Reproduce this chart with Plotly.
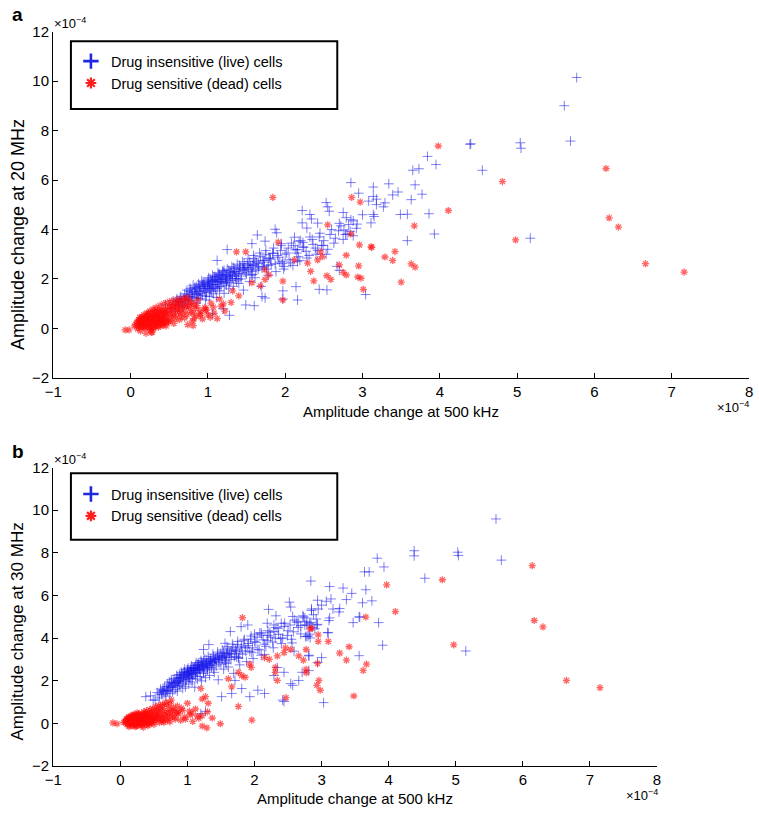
import plotly.graph_objects as go

W, H = 759, 816
FONT = "Liberation Sans, Arial, Helvetica, sans-serif"

# ---------------- data (amplitude change, units of 1e-4) ----------------
series_names = ["Drug insensitive (live) cells", "Drug sensitive (dead) cells"]
x_title = "Amplitude change at 500 kHz"
y_title_a = "Amplitude change at 20 MHz"
y_title_b = "Amplitude change at 30 MHz"
x_ticks = [-1, 0, 1, 2, 3, 4, 5, 6, 7, 8]
y_ticks = [-2, 0, 2, 4, 6, 8, 10, 12]

# dense core of live cells: x at 500 kHz, y at 20 MHz (a), y at 30 MHz (b)
blue_core_x = [0.45,0.52,0.55,0.58,0.60,0.62,0.65,0.66,0.68,0.70,
               0.71,0.73,0.74,0.76,0.77,0.78,0.80,0.81,0.82,0.84,
               0.85,0.86,0.88,0.89,0.90,0.91,0.92,0.93,0.95,0.96,
               0.97,0.98,1.00,1.01,1.02,1.03,1.05,1.06,1.07,1.08,
               1.10,1.11,1.12,1.13,1.15,1.16,1.17,1.19,1.20,1.21,
               1.23,1.24,1.25,1.27,1.28,1.30,1.31,1.33,1.35,1.36,
               1.38,1.40,1.41,1.43,1.45,1.46,1.48,1.50,1.52,1.54,
               1.55,1.57,1.59,1.61,1.63,1.65,1.67,1.69,1.71,1.73,
               1.75,1.78,1.80,1.82,1.85,1.88,1.90,1.93,1.95,1.98,
               2.02,2.05,2.08,2.10,2.13,2.17,2.20,2.24,2.28,2.32,
               2.36,2.40,2.45,2.50,2.55,2.60,2.65,2.72,2.78,2.85,
               2.92,3.00,
               0.72,0.79,0.83,0.87,0.90,0.94,0.97,0.99,1.02,1.04,
               1.06,1.09,1.11,1.14,1.16,1.18,1.22,1.26,1.29,1.32,
               1.34,1.37,1.42,1.47,1.51,1.56,1.62,0.85,0.93,1.00,
               1.08,1.15,1.21,0.76,0.69,0.63,0.88,1.04,1.12,1.24,
               1.39,1.58,1.76,1.96]
blue_core_y20 = [0.95,0.80,1.12,0.70,1.20,0.95,1.30,1.05,0.85,1.40,
                 1.18,1.55,0.98,1.30,1.62,1.12,1.45,1.75,1.25,1.58,
                 1.02,1.38,1.80,1.50,1.20,1.68,1.92,1.35,1.60,1.85,
                 1.15,1.45,1.72,2.05,1.30,1.55,1.90,2.15,1.40,1.65,
                 1.98,1.25,1.78,2.25,1.52,2.00,1.68,2.32,1.88,1.42,
                 2.10,1.75,2.40,1.60,2.18,1.95,2.50,1.70,2.28,2.02,
                 2.60,1.82,2.38,2.12,2.70,1.55,2.45,2.20,2.82,1.90,
                 2.55,2.30,2.95,2.05,2.65,2.40,3.05,1.70,2.75,2.50,
                 3.15,2.15,2.85,2.58,3.25,2.30,2.95,2.68,3.35,2.40,
                 3.05,2.78,3.45,2.55,3.18,2.90,3.55,3.28,2.85,3.70,
                 3.40,3.00,3.85,3.55,3.20,4.00,3.65,4.15,3.80,4.40,
                 4.05,4.60,
                 1.28,1.38,1.48,1.62,1.52,1.70,1.62,1.82,1.78,1.88,
                 1.72,1.92,2.05,1.85,2.12,1.98,2.20,2.05,2.28,2.15,
                 2.42,2.22,2.48,2.35,2.60,2.45,2.72,1.68,1.78,1.95,
                 2.08,2.18,2.35,1.50,1.22,1.10,1.32,1.60,1.62,1.88,
                 2.00,2.18,2.40,2.62]
blue_core_y30 = [1.30,1.10,1.45,1.20,1.62,1.35,1.50,1.72,1.28,1.85,
                 1.55,1.95,1.40,2.05,1.70,1.48,2.10,1.88,1.60,2.25,
                 1.52,1.98,2.30,1.78,2.12,2.40,1.90,1.65,2.20,2.55,
                 1.72,2.05,2.35,2.60,1.85,2.15,2.48,2.70,1.95,2.28,
                 2.62,1.70,2.40,2.85,2.08,2.52,2.75,2.20,2.95,2.00,
                 2.68,2.35,3.05,2.15,2.80,2.50,3.15,2.25,2.90,2.62,
                 3.25,2.40,3.00,2.70,3.35,2.05,3.10,2.78,3.45,2.55,
                 3.20,2.88,3.60,2.65,3.30,3.00,3.72,2.35,3.42,3.12,
                 3.85,2.75,3.55,3.25,3.95,2.90,3.65,3.38,4.10,3.05,
                 3.80,3.48,4.25,3.20,3.92,3.62,4.35,4.05,3.55,4.50,
                 4.18,3.75,4.70,4.35,3.95,4.85,4.50,5.05,4.62,5.30,
                 4.90,5.55,
                 1.72,1.82,1.92,2.02,2.10,2.18,2.25,2.30,2.38,2.45,
                 2.32,2.50,2.58,2.48,2.65,2.55,2.72,2.68,2.82,2.75,
                 2.95,2.85,3.05,3.00,3.15,3.10,3.28,2.15,2.32,2.45,
                 2.62,2.78,2.88,1.92,1.62,1.55,1.85,2.10,2.22,2.42,
                 2.55,2.82,3.05,3.32]
# more live cells of the dense band: (x 500 kHz, y 20 MHz, y 30 MHz)
blue_core_more = [(0.58,0.98,1.38),(0.61,1.08,1.48),(0.64,1.18,1.58),(0.67,0.92,1.42),(0.70,1.10,1.52),
                  (0.73,1.35,1.75),(0.75,1.20,1.68),(0.78,1.55,1.78),(0.80,1.28,1.90),(0.83,1.65,2.00),
                  (0.85,1.40,1.72),(0.87,1.22,1.95),(0.89,1.72,2.15),(0.91,1.42,2.28),(0.94,1.88,2.05),
                  (0.96,1.52,2.38),(0.98,1.30,1.98),(1.00,1.62,2.52),(1.01,1.85,2.20),(1.03,2.00,2.42),
                  (1.05,1.50,2.60),(1.07,1.78,2.12),(1.09,2.10,2.55),(1.10,1.60,2.35),(1.12,1.95,2.72),
                  (1.14,2.20,2.40),(1.15,1.70,2.60),(1.17,1.90,2.85),(1.19,2.05,2.48),(1.20,2.28,2.70),
                  (1.22,1.82,2.62),(1.24,2.15,2.90),(1.25,1.95,2.55),(1.27,2.35,2.78),(1.28,1.85,3.00),
                  (1.30,2.25,2.65),(1.32,2.02,2.92),(1.33,2.45,2.72),(1.35,2.12,3.05),(1.37,1.92,2.80),
                  (1.39,2.32,3.12),(1.41,2.55,2.90),(1.43,2.00,3.00),(1.45,2.40,3.20),(1.47,2.62,2.85),
                  (1.49,2.25,3.28),(1.52,2.48,3.05),(1.54,2.70,3.35),(1.56,2.15,2.95),(1.58,2.55,3.22),
                  (1.60,2.82,3.50),(1.62,2.35,3.10),(1.65,2.62,3.40),(1.68,2.90,3.58),(1.70,2.45,3.15),
                  (1.72,2.68,3.48),(1.75,2.98,3.70),(1.78,2.55,3.30),(1.81,2.80,3.62),(1.84,3.05,3.88),
                  (1.87,2.62,3.40),(1.91,2.88,3.75),(1.94,3.15,3.95),(1.97,2.72,3.55),(2.00,3.00,3.85),
                  (2.04,3.25,4.05),(2.07,2.65,3.45),(2.11,3.35,4.15),(2.15,3.05,3.72),(2.19,2.75,3.90),
                  (2.23,3.48,4.28),(2.27,3.12,3.82),(2.31,2.95,4.00),(2.35,3.60,4.45),(2.39,3.25,3.98),
                  (2.44,3.70,4.55),(2.49,3.35,4.12),(2.53,3.00,4.62),(2.58,3.80,4.30),(2.63,3.45,4.75),
                  (2.69,3.95,4.20),(2.75,3.60,4.95),(2.82,4.20,4.70),(2.88,3.75,5.10),(0.95,1.75,2.42),
                  (1.02,1.68,2.28),(1.06,1.95,2.35),(1.13,1.88,2.55),(1.18,2.15,2.58),(1.23,2.00,2.78),
                  (1.29,2.10,2.60),(1.34,2.30,2.88),(1.40,2.20,2.95),(1.46,2.45,3.08),(1.53,2.38,3.15),
                  (1.59,2.58,3.30),(1.66,2.50,3.25),(1.73,2.75,3.38)]

# dense core of dead cells
red_core_x = [0.05,0.08,0.10,0.11,0.12,0.13,0.14,0.15,0.16,0.17,
              0.18,0.19,0.20,0.21,0.22,0.23,0.24,0.25,0.26,0.27,
              0.28,0.29,0.30,0.31,0.32,0.33,0.34,0.35,0.36,0.37,
              0.38,0.39,0.40,0.41,0.42,0.43,0.44,0.45,0.46,0.47,
              0.48,0.49,0.50,0.52,0.53,0.54,0.56,0.57,0.58,0.60,
              0.61,0.63,0.64,0.66,0.68,0.70,0.72,0.74,0.76,0.78,
              0.80,0.82,0.85,0.87,0.90,0.93,0.96,1.00,1.04,1.08,
              1.12,1.17,1.22,1.30,0.14,0.18,0.20,0.22,0.24,0.26,
              0.28,0.30,0.32,0.34,0.36,0.38,0.40,0.42,0.44,0.46,
              0.16,0.19,0.21,0.23,0.27,0.29,0.31,0.33,0.35,0.37,
              0.12,0.09,0.26,0.55,0.62,0.65,0.71,0.75,0.79,0.84]
red_core_y20 = [0.10,0.25,0.05,0.35,0.18,-0.10,0.45,0.28,0.08,0.55,
                0.38,0.15,-0.20,0.62,0.42,0.22,0.02,0.70,0.50,0.30,
                -0.15,0.78,0.58,0.12,0.40,0.85,0.25,0.65,0.05,0.48,
                0.92,0.32,0.72,0.18,0.55,1.00,0.38,0.80,0.10,0.62,
                1.05,0.28,0.88,0.45,1.12,0.68,0.20,0.95,0.52,1.18,
                0.75,0.35,1.02,0.60,1.22,0.42,0.88,0.15,1.10,0.65,
                0.30,0.95,0.50,1.15,0.72,0.38,0.85,0.55,1.02,0.62,
                0.40,0.90,0.70,1.05,0.20,0.05,0.30,0.10,0.40,0.20,
                0.35,0.00,0.20,0.45,0.28,0.10,0.40,0.25,0.60,0.30,
                0.40,0.25,0.48,0.60,0.15,0.45,0.68,0.55,0.35,0.75,
                0.45,-0.02,-0.05,0.85,0.92,0.78,1.00,0.92,1.05,0.80]
red_core_y30 = [0.05,0.12,-0.05,0.20,0.08,-0.15,0.30,0.02,0.15,0.25,
                -0.08,0.35,0.10,0.42,0.00,0.22,-0.12,0.50,0.15,0.30,
                0.05,0.38,-0.05,0.25,0.45,0.12,-0.18,0.55,0.20,0.35,
                0.05,0.60,0.28,-0.10,0.42,0.18,0.65,0.08,0.32,0.50,
                0.70,0.15,-0.05,0.40,0.78,0.22,0.55,0.85,0.05,0.35,
                0.62,0.90,0.15,0.45,1.00,0.25,0.70,0.08,1.10,0.38,
                0.58,0.20,0.82,0.45,0.15,0.62,0.30,0.95,0.40,0.10,
                0.68,0.25,1.15,0.55,0.00,0.18,-0.02,0.12,0.08,-0.08,
                0.18,0.10,0.05,0.25,0.00,0.15,0.10,0.30,-0.02,0.20,
                0.28,0.40,0.05,0.32,0.42,0.10,0.22,0.35,0.12,0.48,
                0.10,0.22,0.38,0.30,0.12,0.05,0.50,0.28,0.75,0.52]
# more dead cells of the dense cluster: (x 500 kHz, y 20 MHz, y 30 MHz)
red_core_more = [(0.07,0.15,0.08),(0.10,0.30,0.18),(0.11,0.12,-0.02),(0.13,0.22,0.25),(0.14,0.05,0.12),
                 (0.15,0.38,0.05),(0.16,0.18,-0.10),(0.17,0.30,0.20),(0.18,0.48,0.12),(0.19,0.02,0.30),
                 (0.20,0.20,0.02),(0.21,0.35,0.15),(0.22,0.55,0.25),(0.23,0.08,-0.05),(0.24,0.28,0.35),
                 (0.25,0.45,0.05),(0.26,0.62,0.20),(0.27,0.05,0.10),(0.28,0.22,0.28),(0.29,0.38,-0.02),
                 (0.30,0.52,0.40),(0.31,0.28,0.12),(0.32,0.70,0.18),(0.33,0.12,0.30),(0.34,0.35,0.05),
                 (0.35,0.50,0.22),(0.36,0.18,0.38),(0.37,0.62,0.08),(0.38,0.42,0.25),(0.39,0.25,-0.05),
                 (0.40,0.58,0.45),(0.41,0.38,0.18),(0.42,0.75,0.28),(0.43,0.20,0.05),(0.44,0.48,0.38),
                 (0.45,0.65,0.15),(0.46,0.42,0.50),(0.48,0.72,0.25),(0.50,0.55,0.40),(0.51,0.30,0.10),
                 (0.53,0.78,0.32),(0.55,0.58,0.55),(0.57,0.40,0.18),(0.59,0.82,0.42),(0.62,0.65,0.28),
                 (0.65,0.48,0.60),(0.67,0.88,0.35),(0.70,0.70,0.15),(0.73,0.55,0.48),(0.77,0.82,0.62),
                 (0.81,0.62,0.30),(0.86,0.92,0.55),(0.91,0.60,0.72),(0.97,0.78,0.20),(1.03,0.45,0.58),
                 (0.12,0.32,0.30),(0.17,0.12,0.38),(0.22,0.25,-0.15),(0.27,0.42,0.45),(0.32,0.08,-0.10),
                 (0.37,0.30,0.42),(0.42,0.12,0.20),(0.47,0.22,0.05),(0.52,0.95,0.62),(0.58,1.02,0.72),
                 (0.63,1.10,0.80),(0.69,1.15,0.88),(0.74,1.25,0.95)]

# scattered live cells, panel a (x 500 kHz, y 20 MHz)
blue_a_points = [(5.77,10.15),(5.61,9.01),(5.69,7.58),(4.39,7.45),(4.40,7.47),(5.04,7.51),(5.05,7.29),(4.55,6.40),(5.17,3.65),(3.84,6.96),
                 (3.95,6.63),(3.65,6.40),(3.73,6.46),(3.34,5.85),(3.68,5.81),(3.14,5.72),(3.46,5.52),(3.39,5.40),(3.77,5.43),(3.14,5.34),
                 (3.18,5.23),(3.08,5.15),(3.29,5.08),(3.63,5.21),(3.18,5.01),(3.27,4.92),(3.49,4.61),(3.58,4.62),(3.86,4.64),(3.14,4.61),
                 (3.15,4.53),(3.11,4.27),(3.93,3.82),(3.58,3.55),(3.04,1.37),(2.85,5.90),(2.95,5.47),(2.53,5.09),(2.55,4.92),(2.22,4.77),
                 (2.32,4.61),(2.34,4.43),(2.42,4.26),(2.57,4.74),(2.75,4.69),(2.79,4.48),(2.88,4.35),(2.93,4.22),(2.70,4.25),(2.76,3.98),
                 (2.84,3.93),(2.80,3.82),(2.22,4.27),(2.28,4.06),(1.87,4.01),(1.89,3.87),(1.64,3.78),(2.12,3.69),(2.18,3.53),(1.95,3.43),
                 (2.16,3.19),(2.23,3.30),(2.42,3.16),(2.47,3.36),(1.74,3.53),(1.25,3.19),(1.57,3.43),(1.84,3.03),(1.79,2.83),(1.99,2.51),
                 (2.16,2.70),(2.67,2.51),(2.70,2.35),(1.12,2.75),(2.14,1.69),(2.44,1.58),(2.54,1.56),(1.70,1.29),(1.74,1.23),(2.16,1.15),
                 (1.60,0.92),(1.49,0.95),(1.97,1.52),(1.97,1.19),(1.06,0.59),(1.20,0.79),(1.28,0.53)]
# scattered live cells, panel b (x 500 kHz, y 30 MHz)
blue_b_points = [(5.60,9.59),(5.68,7.66),(4.38,8.10),(4.38,7.86),(5.03,8.03),(5.04,7.88),(4.54,6.81),(5.15,3.40),(3.83,7.75),(3.93,7.34),
                 (3.64,7.11),(3.71,7.11),(3.66,6.27),(2.84,6.68),(3.12,6.42),(3.32,6.35),(3.45,6.10),(3.37,5.81),(3.75,5.75),(3.61,5.66),
                 (2.94,5.78),(3.07,5.73),(3.14,5.84),(2.85,5.37),(2.95,5.37),(3.17,5.37),(3.27,5.39),(3.26,5.23),(3.12,4.95),(3.11,4.83),
                 (3.57,4.99),(3.47,4.73),(3.85,4.73),(3.91,3.67),(3.56,3.18),(3.03,0.98),(3.09,4.27),(2.94,4.65),(2.86,4.51),(2.78,4.77),
                 (2.76,4.08),(2.80,4.11),(2.83,4.01),(2.81,3.20),(2.73,5.00),(2.52,5.69),(2.54,5.46),(2.21,5.35),(2.57,5.02),(2.65,4.77),
                 (2.69,4.59),(2.32,5.05),(2.19,4.70),(2.29,4.62),(2.40,4.70),(2.75,4.62),(2.84,4.74),(2.93,4.62),(2.78,4.08),(2.82,4.19),
                 (2.90,4.44),(3.10,4.25),(3.56,5.00),(1.64,4.31),(1.80,4.54),(1.90,4.62),(2.00,4.19),(2.10,4.24),(2.20,4.13),(2.29,4.31),
                 (2.42,4.01),(2.56,3.78),(2.59,3.39),(2.81,3.17),(1.24,3.47),(1.32,3.70),(1.56,3.76),(1.76,3.09),(1.86,3.55),(2.15,3.24),
                 (2.34,2.63),(2.44,2.40),(2.29,2.25),(2.54,1.87),(2.66,2.02),(2.71,2.40),(2.81,2.48),(3.00,3.09),(2.94,2.86),(2.57,1.79),
                 (2.42,1.10),(2.44,1.03),(1.93,1.26),(2.05,1.56),(2.15,1.41),(1.81,1.64),(1.71,2.02),(1.51,1.26),(1.66,1.41),(1.27,0.57),
                 (1.20,0.46),(0.38,1.26),(0.49,1.10)]
# scattered dead cells, panel a
red_a_points = [(3.98,7.38),(4.81,5.94),(6.15,6.47),(4.11,4.77),(3.67,4.15),(6.19,4.47),(6.31,4.10),(4.98,3.58),(3.12,3.28),(3.42,3.11),
                (3.29,2.89),(3.39,2.75),(3.63,2.61),(3.68,2.48),(3.50,1.87),(6.66,2.62),(7.16,2.28),(3.01,1.58),(1.84,5.30),(2.86,5.30),
                (2.97,5.11),(2.55,4.19),(2.85,3.82),(2.96,3.38),(3.11,3.30),(2.79,2.96),(2.46,3.10),(2.48,2.90),(2.42,2.77),(2.29,2.64),
                (2.12,2.77),(1.91,3.49),(1.37,3.10),(1.49,3.10),(2.33,2.31),(2.37,1.92),(2.54,2.13),(2.59,1.98),(2.70,2.57),(2.75,2.27),
                (2.79,2.16),(2.95,2.53),(2.94,2.08),(2.98,2.03),(1.74,1.98),(1.79,2.17),(1.74,2.37),(1.97,1.91),(1.97,1.15),(1.57,1.85),
                (1.68,1.72),(1.40,1.32),(1.32,1.52),(1.15,1.19),(1.20,0.99),(1.07,0.86),(0.98,0.73),(0.90,0.53),(0.82,0.40),(0.81,0.11),
                (-0.07,-0.06),(-0.02,-0.06),(0.27,-0.16)]
# scattered dead cells, panel b
red_b_points = [(6.14,7.40),(6.17,4.83),(6.30,4.53),(6.65,2.02),(7.15,1.68),(4.97,3.69),(4.80,6.74),(4.10,5.25),(3.97,6.50),(3.66,4.99),
                (3.41,3.60),(3.27,3.30),(3.37,2.97),(3.67,2.78),(3.62,2.49),(3.48,1.29),(1.82,4.96),(2.83,4.44),(2.95,4.16),(3.10,3.85),
                (2.95,3.85),(2.46,3.55),(2.44,3.32),(2.54,3.47),(2.66,3.17),(2.73,2.97),(2.77,3.47),(2.94,2.82),(2.77,2.54),(2.34,2.02),
                (2.96,2.02),(2.93,1.79),(2.98,1.56),(2.47,1.21),(2.31,2.63),(2.31,2.40),(2.15,3.09),(2.22,3.01),(2.34,3.17),(1.86,2.17),
                (1.93,2.78),(1.95,2.63),(1.76,2.40),(1.81,2.25),(1.61,2.10),(1.66,1.72),(1.76,0.80),(1.96,0.16),(1.49,-0.01),(1.37,0.26),
                (1.22,0.37),(1.22,-0.12),(1.29,-0.20),(1.07,0.49),(1.15,0.34),(1.31,0.95),(1.20,1.64),(1.27,1.26),(-0.05,-0.01),(-0.11,0.03),
                (2.77,2.38),(2.85,4.47)]

assert len(blue_core_x) == len(blue_core_y20) == len(blue_core_y30)
assert len(red_core_x) == len(red_core_y20) == len(red_core_y30)

# ---------------- figure ----------------
def px(x, y):
    return x / W, 1 - y / H

BLUE = "rgba(25,25,235,0.55)"
RED = "rgba(255,10,10,0.62)"

fig = go.Figure()

def add_panel(k, blue_pts, red_pts, xa, ya, leg):
    cy_b = blue_core_y20 if k == 1 else blue_core_y30
    cy_r = red_core_y20 if k == 1 else red_core_y30
    bx = blue_core_x + [t[0] for t in blue_core_more] + [p[0] for p in blue_pts]
    by = cy_b + [t[k] for t in blue_core_more] + [p[1] for p in blue_pts]
    rx = red_core_x + [t[0] for t in red_core_more] + [p[0] for p in red_pts]
    ry = cy_r + [t[k] for t in red_core_more] + [p[1] for p in red_pts]
    fig.add_trace(go.Scatter(x=bx, y=by, mode="markers", xaxis=xa, yaxis=ya,
                             showlegend=False, hoverinfo="skip",
                             marker=dict(symbol="cross-thin-open", size=7, color=BLUE,
                                         line=dict(width=1, color=BLUE))))
    fig.add_trace(go.Scatter(x=rx, y=ry, mode="markers", xaxis=xa, yaxis=ya,
                             showlegend=False, hoverinfo="skip",
                             marker=dict(symbol="asterisk-open", size=6, color=RED,
                                         line=dict(width=1.3, color=RED))))
    fig.add_trace(go.Scatter(x=[None], y=[None], mode="markers", xaxis=xa, yaxis=ya,
                             name=series_names[0], legend=leg,
                             marker=dict(symbol="cross-thin-open", size=11, color="rgb(30,40,225)",
                                         line=dict(width=2.6, color="rgb(30,40,225)"))))
    fig.add_trace(go.Scatter(x=[None], y=[None], mode="markers", xaxis=xa, yaxis=ya,
                             name=series_names[1], legend=leg,
                             marker=dict(symbol="asterisk-open", size=9, color="rgb(255,30,30)",
                                         line=dict(width=2.2, color="rgb(255,30,30)"))))

add_panel(1, blue_a_points, red_a_points, "x", "y", "legend")
add_panel(2, blue_b_points, red_b_points, "x2", "y2", "legend2")

axis_common = dict(showline=True, linecolor="black", linewidth=1.4, ticks="inside",
                   ticklen=5, tickwidth=1.2, tickcolor="black", showgrid=False,
                   zeroline=False, ticklabeloverflow="allow",
                   tickfont=dict(family=FONT, size=15, color="black"))

fig.update_layout(
    width=W, height=H, margin=dict(l=0, r=0, t=0, b=0),
    paper_bgcolor="white", plot_bgcolor="white",
    font=dict(family=FONT, size=14.5, color="black"),
    xaxis=dict(domain=[45 / W, 753 / W], anchor="y", range=[-1, 8],
               tickmode="array", tickvals=x_ticks, **axis_common),
    yaxis=dict(domain=[1 - 376.7 / H, 1 - 23.3 / H], anchor="x", range=[-2, 12],
               tickmode="array", tickvals=y_ticks, **axis_common),
    xaxis2=dict(domain=[45 / W, 659.3 / W], anchor="y2", range=[-1, 8],
                tickmode="array", tickvals=x_ticks, **axis_common),
    yaxis2=dict(domain=[1 - 773.3 / H, 1 - 468.3 / H], anchor="x2", range=[-2, 12],
                tickmode="array", tickvals=y_ticks, **axis_common),
    legend=dict(x=63 / W, y=1 - 37 / H, xanchor="left", yanchor="top",
                bgcolor="rgba(0,0,0,0)", borderwidth=0, itemwidth=30,
                font=dict(family=FONT, size=14.5, color="black")),
    legend2=dict(x=63 / W, y=1 - 479 / H, xanchor="left", yanchor="top",
                 bgcolor="rgba(0,0,0,0)", borderwidth=0, itemwidth=30,
                 font=dict(family=FONT, size=14.5, color="black")),
    showlegend=True,
)

# legend boxes
for (x0, y0, x1, y1) in [(63, 33, 334, 102), (63, 474, 334, 542)]:
    a0, b0 = px(x0, y1)
    a1, b1 = px(x1, y0)
    fig.add_shape(type="rect", xref="paper", yref="paper", x0=a0, y0=b0, x1=a1, y1=b1,
                  line=dict(color="black", width=2), fillcolor="rgba(0,0,0,0)")

def note(text, x, y, xanchor="center", yanchor="middle", size=14.5, angle=0, bold=False):
    ax, ay = px(x, y)
    fig.add_annotation(text=f"<b>{text}</b>" if bold else text, x=ax, y=ay,
                       xref="paper", yref="paper", xanchor=xanchor, yanchor=yanchor,
                       showarrow=False, textangle=angle,
                       font=dict(family=FONT, size=size, color="black"))

note("a", 1, 6, xanchor="left", size=19, bold=True)
note("b", 1, 452, xanchor="left", size=19, bold=True)
note("×10<sup>−4</sup>", 44, 14, xanchor="left", size=13)
note("×10<sup>−4</sup>", 44, 460, xanchor="left", size=13)
note("×10<sup>−4</sup>", 718, 406, xanchor="left", size=13)
note("×10<sup>−4</sup>", 626, 803, xanchor="left", size=13)
note(x_title, 399, 411, size=15)
note(x_title, 352, 806, size=15)
note(y_title_a, 9, 230, angle=-90, size=18)
note(y_title_b, 9, 636, angle=-90, size=17)

# place the figure at the page's top-left corner (remove the default body margin)
fig.write_html("out.html",
               config={"displayModeBar": False},
               post_script="document.body.style.margin='0';document.body.style.overflow='hidden';")
